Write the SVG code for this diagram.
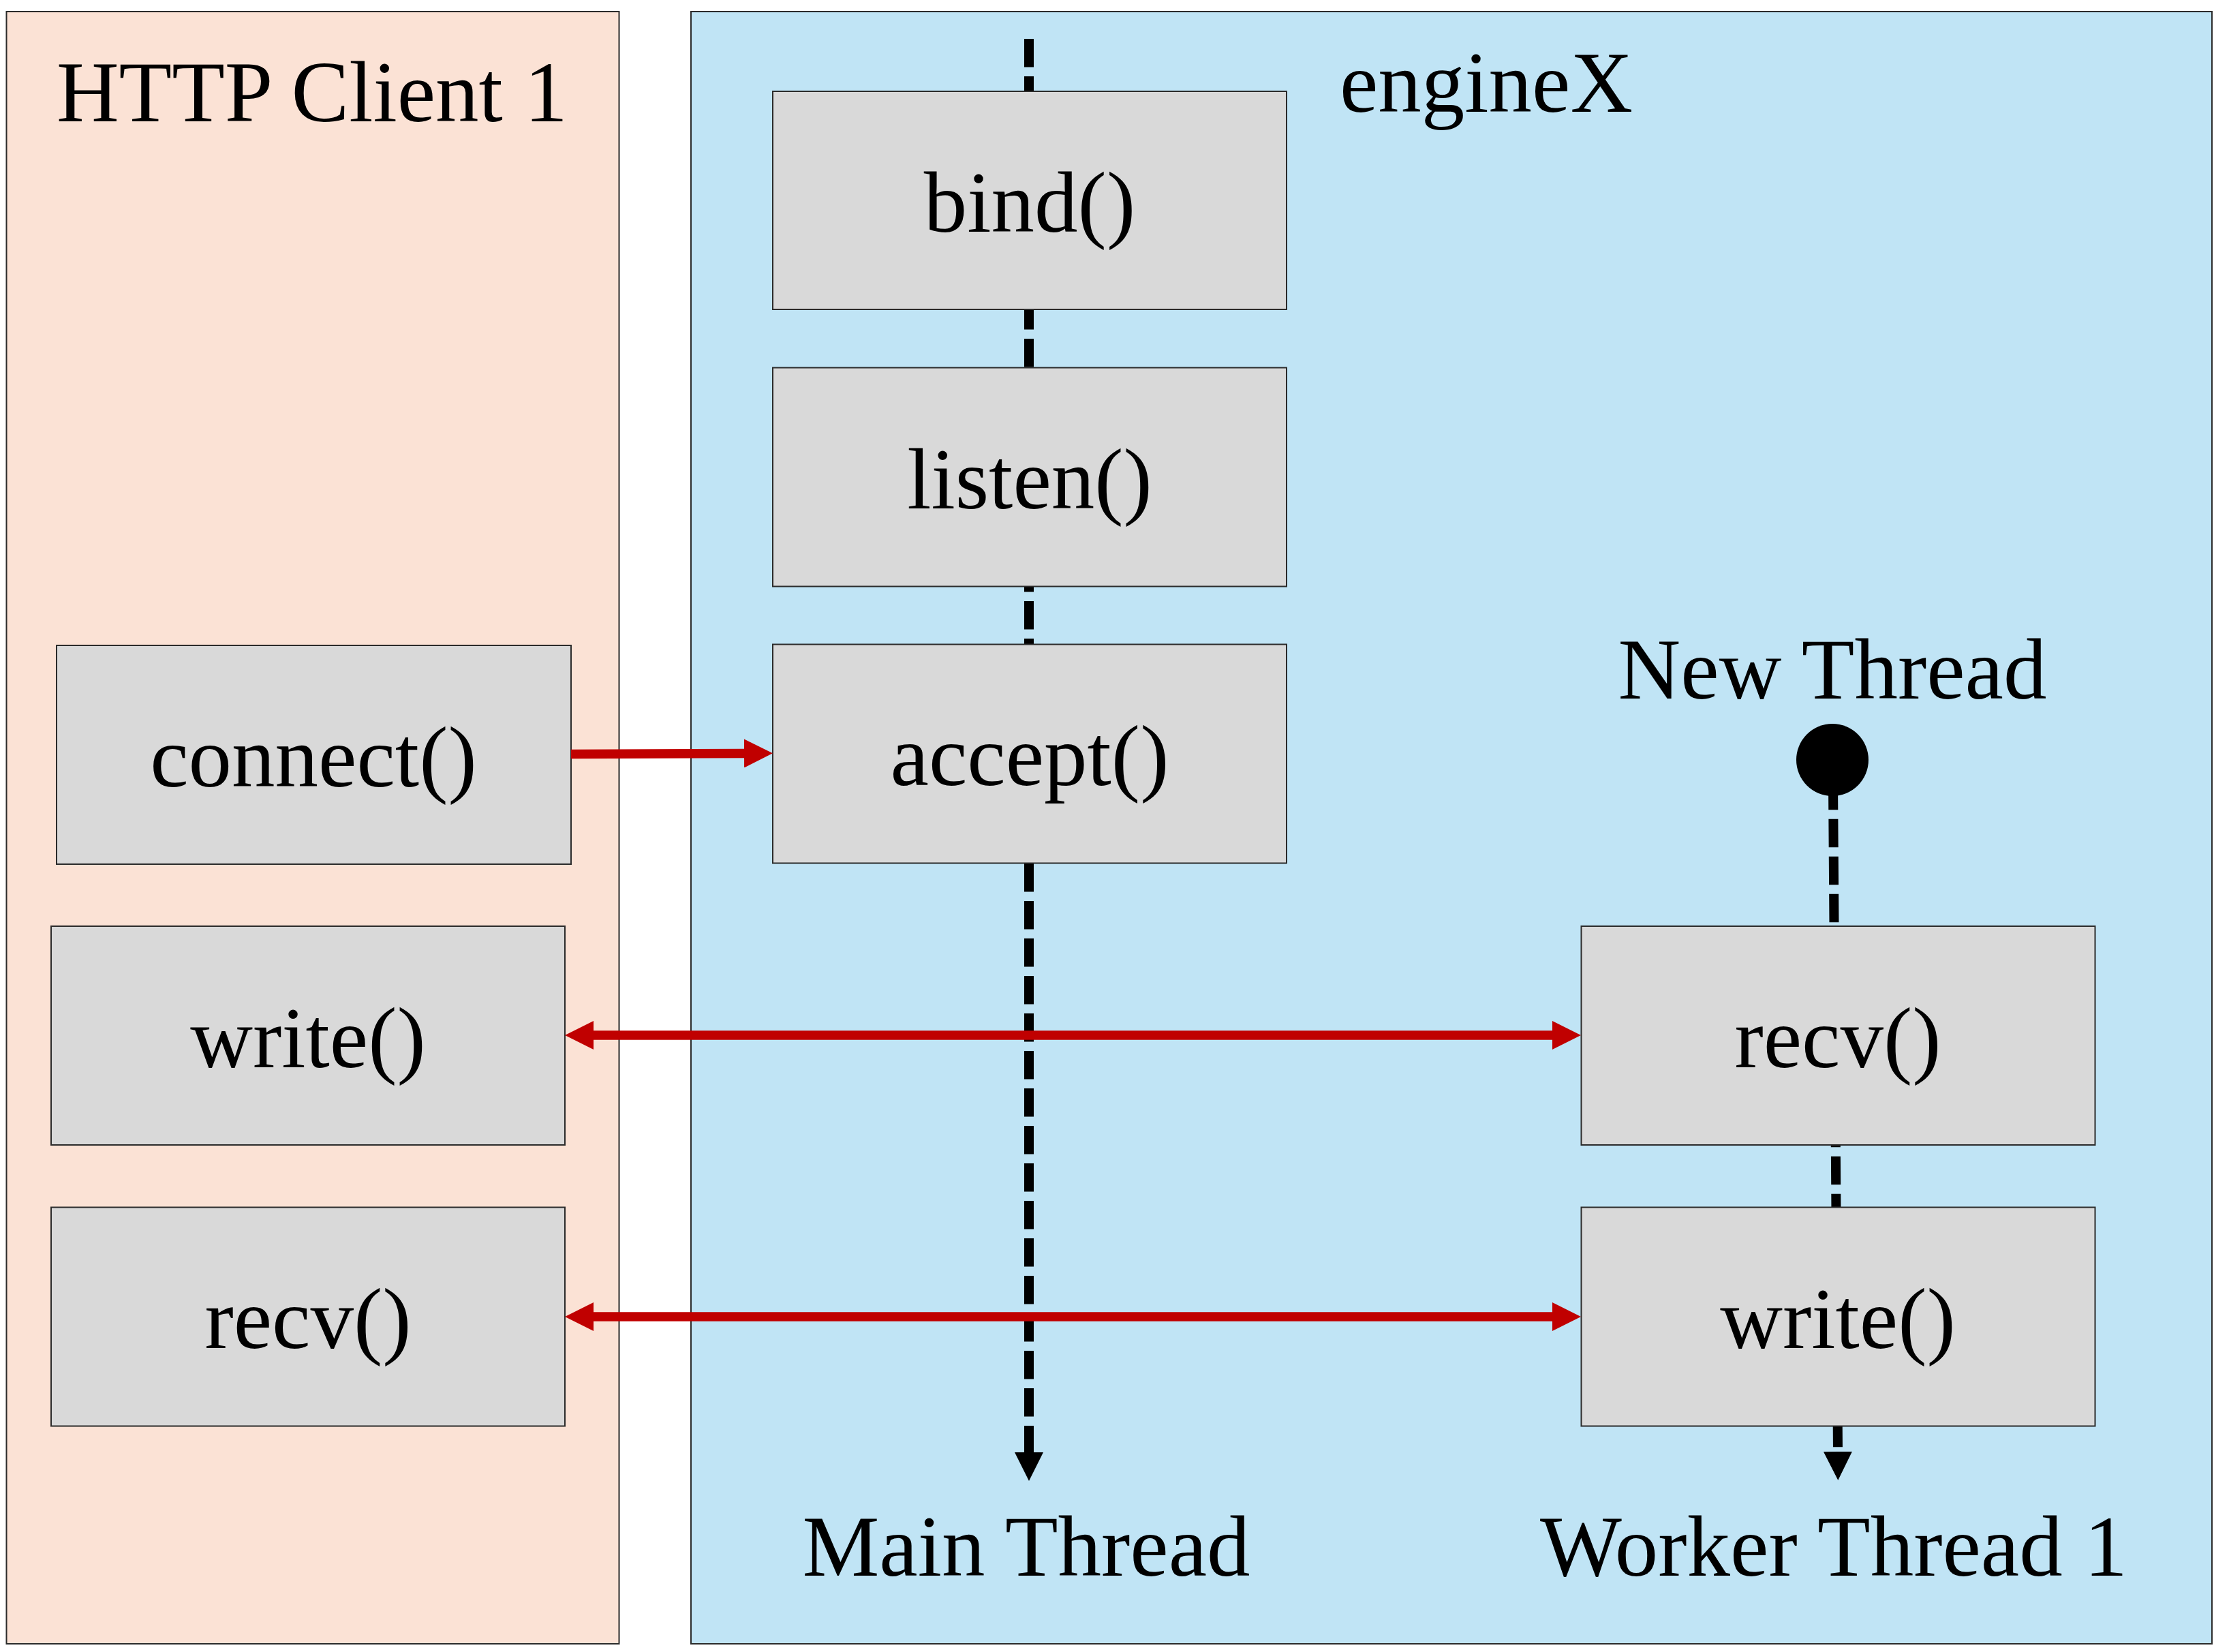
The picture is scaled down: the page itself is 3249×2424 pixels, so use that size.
<svg xmlns="http://www.w3.org/2000/svg" width="3249" height="2424" viewBox="0 0 3249 2424">
<style>
.lbl{font-family:"Liberation Serif","Times New Roman",serif;font-size:127px;fill:#000;text-anchor:middle}
.box{fill:#D9D9D9;stroke:#2b2b2b;stroke-width:2}
.dash{fill:none;stroke:#000;stroke-width:14;stroke-dasharray:41.5 13.5;stroke-linecap:butt}
.red{fill:none;stroke:#C00000;stroke-width:13.5}
</style>
<defs>
<marker id="redHead" markerUnits="userSpaceOnUse" markerWidth="42" markerHeight="42" viewBox="0 0 42 42" refX="0" refY="21" orient="auto-start-reverse">
<path d="M0,0 L42,21 L0,42 Z" fill="#C00000"/>
</marker>
<marker id="blackHead" markerUnits="userSpaceOnUse" markerWidth="42" markerHeight="42" viewBox="0 0 42 42" refX="0" refY="21" orient="auto">
<path d="M0,0 L42,21 L0,42 Z" fill="#000"/>
</marker>
</defs>
<rect width="3249" height="2424" fill="#FFFFFF"/>
<g id="client-panel">
<rect x="9.5" y="17" width="899" height="2395" fill="#FBE2D5" stroke="#2b2b2b" stroke-width="2"/>
<text class="lbl" x="458" y="178">HTTP Client 1</text>
</g>
<g id="enginex-panel">
<rect x="1014" y="17" width="2232" height="2395" fill="#C0E4F5" stroke="#2b2b2b" stroke-width="2"/>
<text class="lbl" x="2181" y="164">engineX</text>
</g>
<g id="thread-lines">
<path class="dash" d="M1510,57 L1510,2131" marker-end="url(#blackHead)"/>
<path class="dash" d="M2690,1146.7 L2697,2130" marker-end="url(#blackHead)"/>
<circle cx="2689" cy="1115" r="53" fill="#000"/>
</g>
<g id="bind"><rect class="box" x="1134" y="134" width="754" height="320"/><text class="lbl" x="1511" y="340">bind()</text></g>
<g id="listen"><rect class="box" x="1134" y="539.5" width="754" height="321"/><text class="lbl" x="1511" y="746">listen()</text></g>
<g id="accept"><rect class="box" x="1134" y="945.5" width="754" height="321"/><text class="lbl" x="1511" y="1152">accept()</text></g>
<g id="connect"><rect class="box" x="83" y="947" width="755" height="321"/><text class="lbl" x="460" y="1154">connect()</text></g>
<g id="client-write"><rect class="box" x="75" y="1359" width="754" height="321"/><text class="lbl" x="452" y="1566">write()</text></g>
<g id="client-recv"><rect class="box" x="75" y="1771.5" width="754" height="321"/><text class="lbl" x="452" y="1978">recv()</text></g>
<g id="worker-recv"><rect class="box" x="2320.5" y="1359" width="754" height="321"/><text class="lbl" x="2697" y="1566">recv()</text></g>
<g id="worker-write"><rect class="box" x="2320.5" y="1771.5" width="754" height="321"/><text class="lbl" x="2697" y="1978">write()</text></g>
<g id="labels">
<text class="lbl" x="2689" y="1025">New Thread</text>
<text class="lbl" x="1506" y="2312">Main Thread</text>
<text class="lbl" x="2691" y="2312">Worker Thread 1</text>
</g>
<g id="connectors">
<path class="red" d="M838,1106.5 L1092,1105.5" marker-end="url(#redHead)"/>
<path class="red" d="M871,1519 L2278,1519" marker-start="url(#redHead)" marker-end="url(#redHead)"/>
<path class="red" d="M871,1932 L2278,1932" marker-start="url(#redHead)" marker-end="url(#redHead)"/>
</g>
</svg>
